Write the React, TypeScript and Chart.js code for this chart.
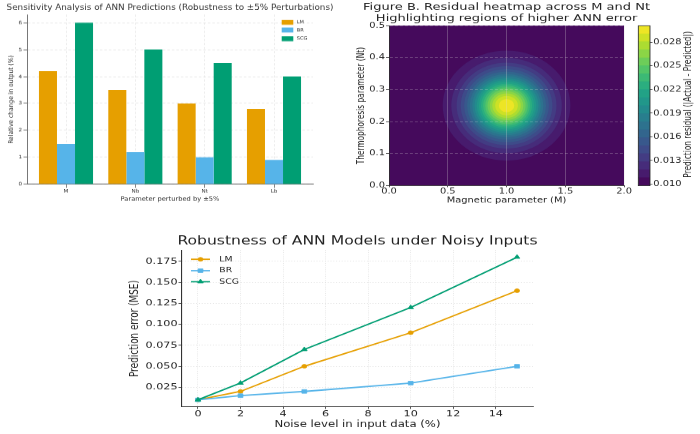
import React, { useEffect, useRef } from 'react';
import { Chart, registerables } from 'chart.js';
import { drawPoint } from 'chart.js/helpers';

Chart.register(...registerables);

const FONT = "'DejaVu Sans', 'Liberation Sans', sans-serif";

// ---------- Panel A: sensitivity bars ----------
const sensitivityParams = ['M', 'Nb', 'Nt', 'Lb'];
const sensLM = [4.2, 3.5, 3.0, 2.8];
const sensBR = [1.5, 1.2, 1.0, 0.9];
const sensSCG = [6.0, 5.0, 4.5, 4.0];
const sensYTicks = [0, 1, 2, 3, 4, 5, 6];

// ---------- Panel B: residual heatmap ----------
const magneticTicks = [0, 0.5, 1.0, 1.5, 2.0];
const ntTicks = [0, 0.1, 0.2, 0.3, 0.4, 0.5];
const residualLevels = [
  0.0098, 0.01082, 0.01183, 0.01284, 0.01386, 0.01488, 0.01589, 0.0169, 0.01792, 0.01894, 0.01995,
  0.02096, 0.02198, 0.023, 0.02401, 0.02502, 0.02604, 0.02706, 0.02807, 0.02908, 0.0301,
];
const residualTicks = [0.01, 0.013, 0.016, 0.019, 0.022, 0.025, 0.028];
const residualPeak = [1.0, 0.25]; // (M, Nt) of maximum residual
const residualSpread = [0.215, 0.068]; // spread in M and Nt
const residualBase = 0.01;
const residualAmplitude = 0.02;

// ---------- Panel C: noisy inputs ----------
const noiseLevels = [0, 2, 5, 10, 15];
const mseLM = [0.01, 0.02, 0.05, 0.09, 0.14];
const mseBR = [0.01, 0.015, 0.02, 0.03, 0.05];
const mseSCG = [0.01, 0.03, 0.07, 0.12, 0.18];
const noiseTicks = [0, 2, 4, 6, 8, 10, 12, 14];
const mseTicks = [0.025, 0.05, 0.075, 0.1, 0.125, 0.15, 0.175];

const COL_LM = '#E69F00';
const COL_BR = '#56B4E9';
const COL_SCG = '#009E73';

const f = (size: number, lineHeight = 1.2) => ({ family: FONT, size, lineHeight, weight: 'normal' as const });

const VIRIDIS = ['#440154', '#482475', '#414487', '#355f8d', '#2a788e', '#21918c', '#22a884', '#44bf70', '#7ad151', '#bddf26', '#fde725'];
function hexRgb(h: string) {
  return [parseInt(h.slice(1, 3), 16), parseInt(h.slice(3, 5), 16), parseInt(h.slice(5, 7), 16)];
}
function viridis(t: number) {
  const p = Math.max(0, Math.min(1, t)) * 10;
  const i = Math.min(9, Math.floor(p));
  const fr = p - i;
  const a = hexRgb(VIRIDIS[i]);
  const b = hexRgb(VIRIDIS[i + 1]);
  const c = a.map((v, k) => Math.round(v + (b[k] - v) * fr));
  return `rgb(${c[0]},${c[1]},${c[2]})`;
}
const nBands = residualLevels.length - 1;
const bandColor = (k: number) => viridis((k + 0.5) / nBands);

// Title centred over the plot area (like matplotlib's axes title)
function makeTitle(lines: string[], size: number, color: string, ys: number[]) {
  return {
    id: 'panelTitle',
    afterDraw(chart: any) {
      const { ctx, chartArea: a } = chart;
      ctx.save();
      ctx.fillStyle = color;
      ctx.font = `${size}px ${FONT}`;
      ctx.textAlign = 'center';
      ctx.textBaseline = 'middle';
      lines.forEach((t, i) => ctx.fillText(t, (a.left + a.right) / 2, ys[i]));
      ctx.restore();
    },
  };
}

type LegendCfg = {
  kind: 'patch' | 'line';
  x: number;
  w: number;
  h: number;
  textX: number;
  rows: number[];
  fontSize: number;
  color: string;
};
function makeLegend(cfg: LegendCfg) {
  return {
    id: 'insideLegend',
    afterDraw(chart: any) {
      const { ctx } = chart;
      ctx.save();
      chart.data.datasets.forEach((d: any, i: number) => {
        const y = cfg.rows[i];
        if (cfg.kind === 'patch') {
          ctx.fillStyle = d.backgroundColor;
          ctx.fillRect(cfg.x, y - cfg.h / 2, cfg.w, cfg.h);
        } else {
          ctx.strokeStyle = d.borderColor;
          ctx.lineWidth = d.borderWidth;
          ctx.beginPath();
          ctx.moveTo(cfg.x, y);
          ctx.lineTo(cfg.x + cfg.w, y);
          ctx.stroke();
          ctx.fillStyle = d.borderColor;
          ctx.lineWidth = 0.8;
          drawPoint(ctx, { pointStyle: d.pointStyle, radius: d.pointRadius, rotation: 0, borderWidth: 0.8 } as any, cfg.x + cfg.w / 2, y);
        }
        ctx.fillStyle = cfg.color;
        ctx.font = `${cfg.fontSize}px ${FONT}`;
        ctx.textAlign = 'left';
        ctx.textBaseline = 'middle';
        ctx.fillText(d.label, cfg.textX, y);
      });
      ctx.restore();
    },
  };
}

const heatmapPlugin = {
  id: 'residualHeatmap',
  beforeDraw(chart: any) {
    const { ctx, chartArea: a, scales } = chart;
    const x = scales.x;
    const y = scales.y;
    ctx.save();
    ctx.beginPath();
    ctx.rect(a.left, a.top, a.right - a.left, a.bottom - a.top);
    ctx.clip();
    ctx.fillStyle = bandColor(0);
    ctx.fillRect(a.left, a.top, a.right - a.left, a.bottom - a.top);
    const cx = x.getPixelForValue(residualPeak[0]);
    const cy = y.getPixelForValue(residualPeak[1]);
    for (let k = 1; k < nBands; k++) {
      const excess = residualLevels[k] - residualBase;
      if (excess <= 0 || excess >= residualAmplitude) continue;
      const rho = Math.sqrt(2 * Math.log(residualAmplitude / excess));
      const rx = Math.abs(x.getPixelForValue(residualPeak[0] + rho * residualSpread[0]) - cx);
      const ry = Math.abs(y.getPixelForValue(residualPeak[1] + rho * residualSpread[1]) - cy);
      ctx.fillStyle = bandColor(k);
      ctx.beginPath();
      ctx.ellipse(cx, cy, rx, ry, 0, 0, Math.PI * 2);
      ctx.fill();
    }
    ctx.restore();
  },
};

const colorbarDecor = {
  id: 'colorbarDecor',
  afterDraw(chart: any) {
    const { ctx, chartArea: a } = chart;
    ctx.save();
    ctx.strokeStyle = '#222';
    ctx.lineWidth = 0.8;
    ctx.strokeRect(a.left, a.top, a.right - a.left, a.bottom - a.top);
    ctx.translate(56.7, 139.3);
    ctx.rotate(-Math.PI / 2);
    ctx.fillStyle = '#222';
    ctx.font = `9.86px ${FONT}`;
    ctx.textAlign = 'center';
    ctx.textBaseline = 'middle';
    ctx.fillText('Prediction residual (|Actual - Predicted|)', 0, 0);
    ctx.restore();
  },
};

const noPlugins = { legend: { display: false }, tooltip: { enabled: false }, title: { display: false } };

function buildSensitivity(): any {
  const ds = (label: string, values: number[], color: string) => ({
    label,
    data: values.map((v, i) => ({ x: i, y: v })),
    backgroundColor: color,
    borderWidth: 0,
    categoryPercentage: 0.78,
    barPercentage: 1,
  });
  const gridCol = '#e0e0e0';
  return {
    type: 'bar',
    data: { datasets: [ds('LM', sensLM, COL_LM), ds('BR', sensBR, COL_BR), ds('SCG', sensSCG, COL_SCG)] },
    options: {
      animation: false,
      responsive: false,
      events: [],
      layout: { padding: { left: 0, right: 27, top: 16.2, bottom: 0 } },
      scales: {
        x: {
          type: 'linear',
          min: -0.5625,
          max: 3.5625,
          offset: false,
          afterBuildTicks: (s: any) => {
            s.ticks = sensitivityParams.map((_, i) => ({ value: i }));
          },
          afterFit: (s: any) => {
            s.height = 29.2;
          },
          ticks: { callback: (v: any) => sensitivityParams[v] ?? '', font: f(5.6), color: '#333', padding: 0, maxRotation: 0, autoSkip: false },
          grid: { offset: false, color: gridCol, lineWidth: 0.6, tickLength: 3.9, tickColor: '#555', tickWidth: 0.7 },
          border: { display: true, color: '#555', width: 0.8, dash: [2.5, 2] },
          title: { display: true, text: 'Parameter perturbed by ±5%', font: f(6.7), color: '#333', padding: { top: 0, bottom: 8.9 } },
        },
        y: {
          type: 'linear',
          min: 0,
          max: 6.3,
          afterBuildTicks: (s: any) => {
            s.ticks = sensYTicks.map((v) => ({ value: v }));
          },
          afterFit: (s: any) => {
            s.width = 27;
          },
          ticks: { font: f(5.6), color: '#333', padding: 1.5 },
          grid: { color: gridCol, lineWidth: 0.6, tickLength: 3.5, tickColor: '#555', tickWidth: 0.7 },
          border: { display: true, color: '#555', width: 0.8, dash: [2.5, 2] },
          title: { display: true, text: 'Relative change in output (%)', font: f(6.6), color: '#333', padding: { top: 7.5, bottom: 0 } },
        },
      },
      plugins: noPlugins,
    },
    plugins: [
      makeTitle(['Sensitivity Analysis of ANN Predictions (Robustness to ±5% Perturbations)'], 8.8, '#333', [8.9]),
      makeLegend({ kind: 'patch', x: 281.7, w: 11.6, h: 5.5, textX: 296.7, rows: [24.8, 33.3, 43], fontSize: 5.1, color: '#333' }),
    ],
  };
}

function buildHeatmap(): any {
  return {
    type: 'scatter',
    data: { datasets: [] },
    options: {
      animation: false,
      responsive: false,
      events: [],
      layout: { padding: { left: 0, right: 38.9, top: 34, bottom: 0 } },
      scales: {
        x: {
          type: 'linear',
          min: 0,
          max: 2,
          afterBuildTicks: (s: any) => {
            s.ticks = magneticTicks.map((v) => ({ value: v }));
          },
          afterFit: (s: any) => {
            s.height = 32.4;
          },
          ticks: { callback: (v: any) => Number(v).toFixed(1), font: f(9.9), color: '#222', padding: 0, maxRotation: 0, autoSkip: false },
          grid: { color: 'rgba(220,220,220,0.35)', lineWidth: 0.8, tickLength: 2, tickColor: '#222', tickWidth: 0.8 },
          border: { display: true, color: '#222', width: 0.8, dash: [] },
          title: { display: true, text: 'Magnetic parameter (M)', font: f(9.86), color: '#222', padding: { top: 0, bottom: 6.8 } },
        },
        y: {
          type: 'linear',
          min: 0,
          max: 0.5,
          afterBuildTicks: (s: any) => {
            s.ticks = ntTicks.map((v) => ({ value: v }));
          },
          afterFit: (s: any) => {
            s.width = 39;
          },
          ticks: { callback: (v: any) => Number(v).toFixed(1), font: f(9.9), color: '#222', padding: 1 },
          grid: { color: 'rgba(230,230,230,0.35)', lineWidth: 0.8, tickLength: 3, tickColor: '#222', tickWidth: 0.8 },
          border: { display: true, color: '#222', width: 0.8, dash: [3, 2] },
          title: { display: true, text: 'Thermophoresis parameter (Nt)', font: f(9.86), color: '#222', padding: { top: 5.8, bottom: 0 } },
        },
      },
      plugins: noPlugins,
    },
    plugins: [
      heatmapPlugin,
      makeTitle(['Figure B. Residual heatmap across M and Nt', 'Highlighting regions of higher ANN error'], 13, '#222', [10.0, 24.7]),
    ],
  };
}

function buildColorbar(): any {
  const bands = residualLevels.slice(0, -1).map((lo, k) => ({
    data: [[lo, residualLevels[k + 1]]],
    backgroundColor: bandColor(k),
    borderWidth: 0,
    grouped: false,
    barPercentage: 1,
    categoryPercentage: 1,
  }));
  return {
    type: 'bar',
    data: { labels: [''], datasets: bands },
    options: {
      animation: false,
      responsive: false,
      events: [],
      layout: { padding: { left: 6.3, right: 0, top: 34.3, bottom: 32.4 } },
      scales: {
        x: { display: false },
        y: {
          position: 'right',
          min: residualLevels[0],
          max: residualLevels[residualLevels.length - 1],
          afterBuildTicks: (s: any) => {
            s.ticks = residualTicks.map((v) => ({ value: v }));
          },
          afterFit: (s: any) => {
            s.width = 50;
          },
          ticks: { callback: (v: any) => Number(v).toFixed(3), font: f(9.9), color: '#222', padding: 0.8 },
          grid: { drawOnChartArea: false, tickLength: 2.5, tickColor: '#222', tickWidth: 0.8 },
          border: { display: false },
        },
      },
      plugins: noPlugins,
    },
    plugins: [colorbarDecor],
  };
}

function buildNoise(): any {
  const ds = (label: string, ys: number[], color: string, pointStyle: string, pointRadius: number, order: number) => ({
    label,
    data: noiseLevels.map((x, i) => ({ x, y: ys[i] })),
    borderColor: color,
    backgroundColor: color,
    borderWidth: 1.8,
    pointStyle,
    pointRadius,
    pointBorderWidth: 0.8,
    pointBorderColor: color,
    pointBackgroundColor: color,
    tension: 0,
    fill: false,
    order,
    clip: false,
  });
  const gridCol = '#d8d8d8';
  return {
    type: 'line',
    data: {
      datasets: [
        ds('LM', mseLM, COL_LM, 'circle', 2.5, 2),
        ds('BR', mseBR, COL_BR, 'rect', 3.4, 1),
        ds('SCG', mseSCG, COL_SCG, 'triangle', 3.3, 0),
      ],
    },
    options: {
      animation: false,
      responsive: false,
      events: [],
      layout: { padding: { left: 0, right: 47, top: 31.15, bottom: 0 } },
      scales: {
        x: {
          type: 'linear',
          min: -0.75,
          max: 15.75,
          afterBuildTicks: (s: any) => {
            s.ticks = noiseTicks.map((v) => ({ value: v }));
          },
          afterFit: (s: any) => {
            s.height = 35.1;
          },
          ticks: { font: f(11.2), color: '#222', padding: 0, maxRotation: 0, autoSkip: false },
          grid: { color: gridCol, lineWidth: 0.7, tickLength: 2.5, tickColor: '#333', tickWidth: 0.9 },
          border: { display: true, color: '#333', width: 1.1, dash: [1, 1.8] },
          title: { display: true, text: 'Noise level in input data (%)', font: f(11.7), color: '#222', padding: { top: 0, bottom: 4.7 } },
        },
        y: {
          type: 'linear',
          min: 0.0015,
          max: 0.1885,
          afterBuildTicks: (s: any) => {
            s.ticks = mseTicks.map((v) => ({ value: v }));
          },
          afterFit: (s: any) => {
            s.width = 62;
          },
          ticks: { callback: (v: any) => Number(v).toFixed(3), font: f(11.2), color: '#222', padding: 1 },
          grid: { color: gridCol, lineWidth: 0.7, tickLength: 3.5, tickColor: '#333', tickWidth: 0.9 },
          border: { display: true, color: '#333', width: 1.1, dash: [1, 1.8] },
          title: { display: true, text: 'Prediction error (MSE)', font: f(11.5), color: '#222', padding: { top: 8.1, bottom: 0 } },
        },
      },
      plugins: noPlugins,
    },
    plugins: [
      makeTitle(['Robustness of ANN Models under Noisy Inputs'], 15.6, '#222', [20.4]),
      makeLegend({ kind: 'line', x: 71, w: 19, h: 0, textX: 99.3, rows: [43.2, 58.0, 72.3], fontSize: 9.3, color: '#222' }),
    ],
  };
}

type PanelProps = { left: number; top: number; width: number; canvasHeight: number; sy: number; build: () => any };

function Panel({ left, top, width, canvasHeight, sy, build }: PanelProps) {
  const ref = useRef<HTMLCanvasElement | null>(null);
  useEffect(() => {
    if (!ref.current) return;
    const chart = new Chart(ref.current, build());
    return () => chart.destroy();
  }, []);
  return (
    <div style={{ position: 'absolute', left, top, width, height: canvasHeight * sy }}>
      <canvas
        ref={ref}
        width={width}
        height={canvasHeight}
        style={{ display: 'block', width, height: canvasHeight, transform: `scaleY(${sy})`, transformOrigin: '0 0' }}
      />
    </div>
  );
}

export default function App() {
  return (
    <div style={{ position: 'absolute', left: 0, top: 0, width: 700, height: 434, background: '#fff', overflow: 'hidden' }}>
      <Panel left={0} top={0} width={340} canvasHeight={234} sy={0.9} build={buildSensitivity} />
      <Panel left={350} top={0} width={313} canvasHeight={280} sy={0.75} build={buildHeatmap} />
      <Panel left={632} top={0} width={68} canvasHeight={280} sy={0.75} build={buildColorbar} />
      <Panel left={120} top={226} width={460} canvasHeight={270} sy={208 / 270} build={buildNoise} />
    </div>
  );
}
